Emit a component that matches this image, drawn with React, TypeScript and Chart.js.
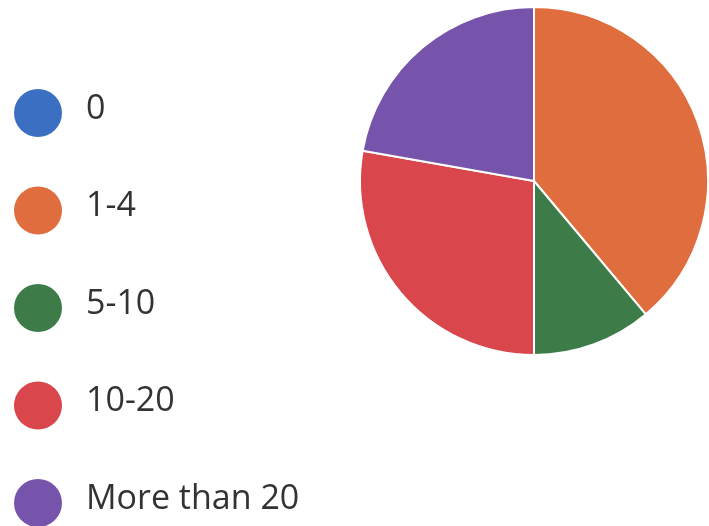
import React, { useEffect, useRef } from "react";
import { Chart, registerables } from "chart.js";

Chart.register(...registerables);

const categories = ["0", "1-4", "5-10", "10-20", "More than 20"];
const responses = [0, 7, 2, 5, 4];
const sliceColors = ["#3a6fc2", "#e06d3d", "#3d7c48", "#d9464b", "#7654ab"];

const legendPlugin = {
  id: "leftLegend",
  afterDraw(chart: any) {
    const ctx = chart.ctx;
    const labels = chart.data.labels as string[];
    const colors = chart.data.datasets[0].backgroundColor as string[];
    ctx.save();
    labels.forEach((label, i) => {
      const y = 113 + i * 97.5;
      ctx.beginPath();
      ctx.arc(38, y, 24, 0, Math.PI * 2);
      ctx.fillStyle = colors[i];
      ctx.fill();
      ctx.fillStyle = "#333333";
      ctx.font = "34px 'Open Sans', 'Noto Sans', sans-serif";
      ctx.textBaseline = "middle";
      ctx.textAlign = "left";
      ctx.fillText(label, 86, y - 4);
    });
    ctx.restore();
  },
};

export default function App() {
  const ref = useRef<HTMLCanvasElement>(null);
  useEffect(() => {
    document.body.style.margin = "0";
    const chart = new Chart(ref.current!, {
      type: "pie",
      data: {
        labels: categories,
        datasets: [
          {
            data: responses,
            backgroundColor: sliceColors,
            borderColor: "#ffffff",
            borderWidth: 2,
          },
        ],
      },
      options: {
        animation: false,
        responsive: false,
        layout: { padding: { left: 359, top: 5, right: 0, bottom: 169 } },
        plugins: { legend: { display: false }, tooltip: { enabled: false } },
      },
      plugins: [legendPlugin],
    });
    return () => chart.destroy();
  }, []);
  return (
    <div style={{ width: 709, height: 526, background: "#fff" }}>
      <canvas ref={ref} width={709} height={526} />
    </div>
  );
}
